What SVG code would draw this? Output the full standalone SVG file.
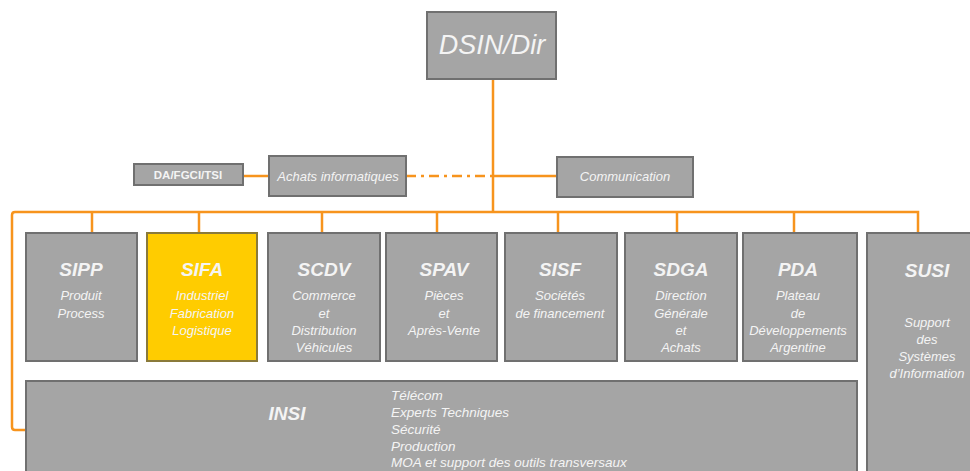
<svg xmlns="http://www.w3.org/2000/svg" width="970" height="471" viewBox="0 0 970 471">
<style>
.box{fill:#a5a5a5;stroke:#707070;stroke-width:2}
.hl{fill:#ffcc00;stroke:#8a7a3a;stroke-width:2}
.ln{fill:none;stroke:#f7941d;stroke-width:2.5}
.dd{fill:none;stroke:#f7941d;stroke-width:2.5;stroke-dasharray:10 5 3 5}
text{font-family:"Liberation Sans",Arial,sans-serif;fill:#f4f4f4;font-style:italic;text-anchor:middle}
.t{font-size:19px;font-weight:bold}
.s{font-size:13px}
.l{text-anchor:start;font-size:13.5px}
</style>
<rect width="970" height="471" fill="#ffffff"/>
<g id="connectors">
<line class="ln" x1="493" y1="79" x2="493" y2="212"/>
<line class="ln" x1="493" y1="176" x2="557" y2="176"/>
<line class="dd" x1="406" y1="176" x2="493" y2="176"/>
<line class="ln" x1="243" y1="176" x2="269" y2="176"/>
<path class="ln" d="M26 430 H15 Q12 430 12 427 V215 Q12 212 15 212 H918 V233"/>
<line class="ln" x1="92" y1="212" x2="92" y2="233"/>
<line class="ln" x1="199" y1="212" x2="199" y2="233"/>
<line class="ln" x1="322" y1="212" x2="322" y2="233"/>
<line class="ln" x1="437" y1="212" x2="437" y2="233"/>
<line class="ln" x1="558" y1="212" x2="558" y2="233"/>
<line class="ln" x1="677" y1="212" x2="677" y2="233"/>
<line class="ln" x1="794" y1="212" x2="794" y2="233"/>
</g>
<g id="dsin">
<rect class="box" x="427" y="12" width="129" height="67"/>
<text x="492" y="54" style="font-size:27px">DSIN/Dir</text>
</g>
<g id="dafgci">
<rect class="box" x="134" y="164" width="109" height="21"/>
<text x="188" y="179" style="font-size:11.5px;font-weight:bold;font-style:normal">DA/FGCI/TSI</text>
</g>
<g id="achats">
<rect class="box" x="269" y="156" width="137" height="40"/>
<text class="s" x="338" y="181">Achats informatiques</text>
</g>
<g id="communication">
<rect class="box" x="557" y="157" width="136" height="40"/>
<text class="s" x="625" y="181">Communication</text>
</g>
<g id="sipp">
<rect class="box" x="26" y="233" width="111" height="128"/>
<text class="t" x="81" y="276">SIPP</text>
<text class="s" x="81" y="300">Produit</text>
<text class="s" x="81" y="318">Process</text>
</g>
<g id="sifa">
<rect class="hl" x="147" y="233" width="110" height="128"/>
<text class="t" x="202" y="276">SIFA</text>
<text class="s" x="202" y="300">Industriel</text>
<text class="s" x="202" y="318">Fabrication</text>
<text class="s" x="202" y="335">Logistique</text>
</g>
<g id="scdv">
<rect class="box" x="268" y="233" width="112" height="128"/>
<text class="t" x="324" y="276">SCDV</text>
<text class="s" x="324" y="300">Commerce</text>
<text class="s" x="324" y="318">et</text>
<text class="s" x="324" y="335">Distribution</text>
<text class="s" x="324" y="352">Véhicules</text>
</g>
<g id="spav">
<rect class="box" x="386" y="233" width="111" height="128"/>
<text class="t" x="444" y="276">SPAV</text>
<text class="s" x="444" y="300">Pièces</text>
<text class="s" x="444" y="318">et</text>
<text class="s" x="444" y="335">Après-Vente</text>
</g>
<g id="sisf">
<rect class="box" x="505" y="233" width="112" height="128"/>
<text class="t" x="560" y="276">SISF</text>
<text class="s" x="560" y="300">Sociétés</text>
<text class="s" x="560" y="318">de financement</text>
</g>
<g id="sdga">
<rect class="box" x="625" y="233" width="112" height="128"/>
<text class="t" x="681" y="276">SDGA</text>
<text class="s" x="681" y="300">Direction</text>
<text class="s" x="681" y="318">Générale</text>
<text class="s" x="681" y="335">et</text>
<text class="s" x="681" y="352">Achats</text>
</g>
<g id="pda">
<rect class="box" x="743" y="233" width="114" height="128"/>
<text class="t" x="798" y="276">PDA</text>
<text class="s" x="798" y="300">Plateau</text>
<text class="s" x="798" y="318">de</text>
<text class="s" x="798" y="335">Développements</text>
<text class="s" x="798" y="352">Argentine</text>
</g>
<g id="susi">
<rect class="box" x="867" y="233" width="120" height="250"/>
<text class="t" x="927" y="277">SUSI</text>
<text class="s" x="927" y="327">Support</text>
<text class="s" x="927" y="344">des</text>
<text class="s" x="927" y="361">Systèmes</text>
<text class="s" x="927" y="378">d’Information</text>
</g>
<g id="insi">
<rect class="box" x="26" y="381" width="831" height="100"/>
<text class="t" x="287" y="420">INSI</text>
<text class="l" x="391" y="400">Télécom</text>
<text class="l" x="391" y="417">Experts Techniques</text>
<text class="l" x="391" y="434">Sécurité</text>
<text class="l" x="391" y="451">Production</text>
<text class="l" x="391" y="467">MOA et support des outils transversaux</text>
</g>
</svg>
